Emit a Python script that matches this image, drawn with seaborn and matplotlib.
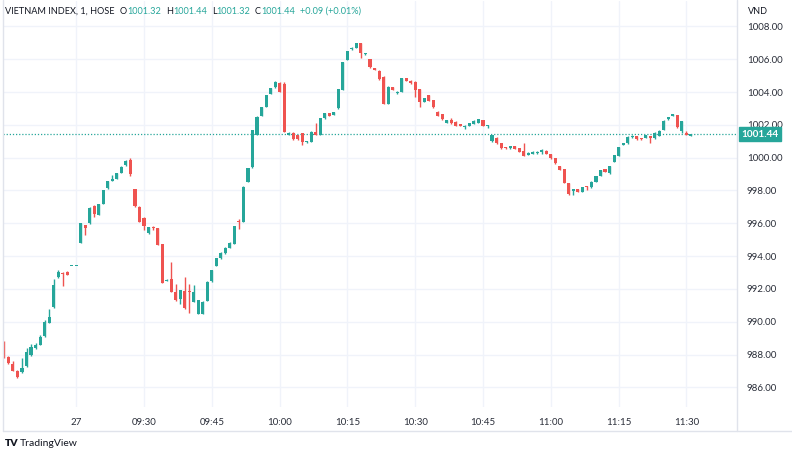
import numpy as np
import pandas as pd
import matplotlib.pyplot as plt
import seaborn as sns
from matplotlib.lines import Line2D
from matplotlib.transforms import blended_transform_factory

# minutes relative to 09:15 on the 27th (negative = previous session close)
minutes = list(range(-16, 137))
opens = [988.78, 987.87, 987.42, 987.02, 986.95, 987.30, 987.97, 988.38, 988.58, 989.10,
         989.94, 990.90, 992.75, 992.95, 993.05, 993.38, 993.38,
         994.82, 995.90, 996.00, 997.08, 996.51, 997.20, 998.13, 998.58, 998.70, 999.09,
         999.56, 999.86, 998.07, 997.02, 996.34, 995.39, 995.77, 995.69, 994.74, 992.50,
         992.58, 991.83, 991.36, 991.90, 991.85, 991.22, 990.47, 990.47, 991.28, 992.48,
         993.40, 993.86, 994.17, 994.52, 994.74, 996.10, 996.10, 998.54, 999.42, 1001.39,
         1002.57, 1003.11, 1003.89, 1004.29, 1004.58, 1004.50, 1001.38, 1001.52, 1001.38, 1001.48,
         1000.94, 1000.98, 1001.59, 1001.38, 1002.40, 1002.70, 1002.60, 1003.01, 1004.13, 1005.96,
         1006.60, 1006.71, 1006.97, 1006.30, 1006.02, 1005.45, 1005.30, 1004.94, 1003.27, 1004.29,
         1003.93, 1004.03, 1004.84, 1004.70, 1004.64, 1004.17, 1003.42, 1003.83, 1003.52, 1002.81,
         1002.67, 1002.14, 1002.30, 1002.20, 1002.05, 1001.88, 1001.95, 1002.05, 1002.14, 1002.30,
         1001.90, 1001.00, 1001.22, 1000.88, 1000.60, 1000.57, 1000.72, 1000.57, 1000.43, 1000.17,
         1000.23, 1000.27, 1000.37, 1000.43, 1000.23, 999.96, 999.49, 999.29, 998.44, 997.99,
         998.07, 997.93, 998.28, 998.20, 998.54, 998.89, 999.29, 999.05, 999.76, 1000.10,
         1000.78, 1000.88, 1001.24, 1001.32, 1001.14, 1001.22, 1001.32, 1001.18, 1001.32, 1001.69,
         1002.34, 1002.54, 1002.60, 1001.65, 1001.50, 1001.32]
highs = [988.85, 987.90, 987.62, 987.05, 987.77, 988.40, 988.64, 988.70, 989.20, 990.10,
         990.75, 992.60, 993.15, 993.05, 993.10, 993.38, 993.38,
         996.00, 995.92, 996.97, 997.10, 997.20, 998.05, 998.60, 998.95, 999.07, 999.48,
         999.88, 999.96, 998.10, 997.05, 996.36, 995.80, 995.84, 995.72, 994.76, 992.58,
         993.66, 992.30, 991.95, 992.71, 992.30, 992.24, 991.35, 991.25, 992.46, 993.17,
         993.88, 994.23, 994.54, 994.84, 995.86, 996.24, 998.26, 999.37, 1001.71, 1002.52,
         1003.09, 1003.85, 1004.25, 1004.66, 1004.60, 1004.63, 1001.59, 1001.54, 1001.40, 1001.50,
         1001.04, 1001.61, 1002.10, 1002.42, 1002.72, 1002.72, 1002.78, 1004.21, 1005.83, 1006.52,
         1006.73, 1006.99, 1006.99, 1006.36, 1006.04, 1005.47, 1005.32, 1004.96, 1004.35, 1004.31,
         1004.05, 1004.86, 1004.86, 1004.72, 1004.66, 1004.19, 1003.64, 1003.85, 1003.54, 1002.83,
         1002.69, 1002.32, 1002.40, 1002.22, 1002.07, 1001.99, 1002.12, 1002.28, 1002.38, 1002.32,
         1001.98, 1001.41, 1001.24, 1000.90, 1000.62, 1000.74, 1000.74, 1000.59, 1000.92, 1000.32,
         1000.39, 1000.39, 1000.53, 1000.45, 1000.25, 999.98, 999.51, 999.31, 998.46, 998.07,
         998.09, 998.21, 998.30, 998.56, 998.91, 999.27, 999.31, 999.52, 1000.19, 1000.65,
         1000.90, 1001.30, 1001.36, 1001.34, 1001.20, 1001.41, 1001.34, 1001.55, 1001.67, 1002.28,
         1002.48, 1002.69, 1002.62, 1002.26, 1001.60, 1001.44]
lows = [987.80, 987.40, 986.98, 986.55, 986.90, 987.25, 987.90, 988.35, 988.55, 989.05,
        989.90, 990.85, 992.65, 992.20, 992.85, 993.38, 993.38,
        994.82, 995.30, 995.96, 996.40, 996.48, 997.18, 998.10, 998.55, 998.68, 999.05,
        999.52, 998.90, 997.02, 996.05, 995.60, 995.35, 995.60, 994.65, 992.35, 992.48,
        991.80, 991.28, 991.10, 990.78, 990.50, 991.18, 990.45, 990.45, 991.25, 992.45,
        993.38, 993.84, 994.15, 994.50, 994.72, 995.63, 996.08, 998.50, 999.40, 1001.37,
        1002.55, 1003.09, 1003.87, 1004.27, 1004.01, 1001.55, 1001.36, 1001.10, 1001.10, 1000.77,
        1000.92, 1000.96, 1001.36, 1001.36, 1002.38, 1002.52, 1002.58, 1002.99, 1004.11, 1005.94,
        1006.58, 1006.69, 1006.06, 1006.28, 1005.49, 1005.33, 1004.76, 1003.25, 1003.25, 1004.11,
        1003.91, 1004.01, 1004.68, 1004.51, 1003.72, 1003.10, 1003.40, 1003.46, 1003.05, 1002.52,
        1002.32, 1002.12, 1002.08, 1001.91, 1001.91, 1001.76, 1001.93, 1002.03, 1002.12, 1001.91,
        1001.80, 1000.98, 1000.86, 1000.55, 1000.55, 1000.55, 1000.51, 1000.35, 1000.11, 1000.15,
        1000.21, 1000.25, 1000.23, 1000.21, 999.94, 999.64, 999.23, 998.46, 997.75, 997.72,
        997.91, 997.91, 998.03, 998.18, 998.52, 998.87, 999.13, 999.03, 999.74, 1000.08,
        1000.76, 1000.86, 1001.22, 1001.10, 1001.05, 1001.20, 1000.92, 1001.16, 1001.30, 1001.67,
        1002.32, 1002.52, 1001.83, 1001.50, 1001.38, 1001.32]
closes = [987.97, 987.46, 987.02, 986.65, 987.16, 988.17, 988.48, 988.58, 989.05, 990.00,
          990.30, 992.24, 993.05, 992.90, 992.85, 993.38, 993.38,
          996.00, 995.70, 996.95, 996.57, 997.16, 998.03, 998.58, 998.70, 999.05, 999.45,
          999.82, 998.99, 997.06, 996.10, 995.86, 995.77, 995.72, 994.68, 992.38, 992.56,
          991.83, 991.32, 991.93, 990.82, 991.80, 991.83, 991.32, 991.22, 992.44, 993.15,
          993.86, 994.21, 994.52, 994.82, 995.84, 996.05, 998.24, 999.35, 1001.69, 1002.50,
          1003.07, 1003.83, 1004.23, 1004.64, 1004.03, 1001.59, 1001.52, 1001.14, 1001.14, 1000.94,
          1001.02, 1001.59, 1001.38, 1002.40, 1002.70, 1002.54, 1002.76, 1004.19, 1005.81, 1006.50,
          1006.71, 1006.97, 1006.36, 1006.34, 1005.51, 1005.35, 1004.78, 1003.27, 1004.33, 1004.13,
          1004.03, 1004.84, 1004.70, 1004.53, 1004.13, 1003.42, 1003.62, 1003.48, 1003.07, 1002.54,
          1002.34, 1002.30, 1002.10, 1001.93, 1001.93, 1001.90, 1002.10, 1002.26, 1002.36, 1001.93,
          1001.93, 1001.39, 1000.88, 1000.57, 1000.57, 1000.72, 1000.53, 1000.37, 1000.13, 1000.30,
          1000.37, 1000.37, 1000.43, 1000.23, 999.96, 999.66, 999.25, 998.48, 997.77, 998.00,
          997.93, 998.19, 998.20, 998.54, 998.89, 999.25, 999.15, 999.50, 1000.17, 1000.63,
          1000.88, 1001.28, 1001.34, 1001.12, 1001.12, 1001.39, 1001.18, 1001.53, 1001.65, 1002.26,
          1002.46, 1002.67, 1001.85, 1002.24, 1001.40, 1001.44]

tick_pos = [0, 15, 30, 45, 60, 75, 90, 105, 120, 135]
tick_labels = ["27", "09:30", "09:45", "10:00", "10:15", "10:30", "10:45", "11:00", "11:15", "11:30"]
price_ticks = [986, 988, 990, 992, 994, 996, 998, 1000, 1002, 1004, 1006, 1008]
last_price = 1001.44

UP = "#26a69a"
DOWN = "#ef5350"
GRID = "#f0f3fa"
TXT = "#131722"
LINE = "#e0e3eb"

df = pd.DataFrame({"minute": minutes, "open": opens, "high": highs, "low": lows, "close": closes})
df["up"] = df["close"] >= df["open"]
df["color"] = np.where(df["up"], UP, DOWN)
df["bottom"] = df[["open", "close"]].min(axis=1)
df["body"] = (df["close"] - df["open"]).abs().clip(lower=0.07)

sns.set_style("white")
plt.rcParams["font.family"] = ["Lato", "DejaVu Sans"]

W, H = 792, 453
fig = plt.figure(figsize=(W / 100, H / 100), dpi=100)
ax = fig.add_axes([3 / W, 1 - 407 / H, (737 - 3) / W, 406 / H])

ax.vlines(df["minute"], df["low"], df["high"], colors=df["color"], linewidth=1, zorder=2)
ax.bar(df["minute"], df["body"], bottom=df["bottom"], width=0.68, color=df["color"],
       linewidth=0, zorder=3)

ax.axhline(last_price, color=UP, linestyle=(0, (1, 1.5)), linewidth=0.9, zorder=1)

ax.set_xlim(-16.2, 146.2)
ax.set_ylim(984.80, 1009.55)
ax.set_xticks(tick_pos)
ax.set_xticklabels(tick_labels)
ax.set_yticks(price_ticks)
ax.set_yticklabels([f"{p:.2f}" for p in price_ticks])
ax.yaxis.tick_right()
ax.tick_params(axis="both", length=0, labelsize=7, labelcolor="#2a2e39")
ax.tick_params(axis="y", pad=7)
ax.tick_params(axis="x", pad=8)
ax.grid(True, color=GRID, linewidth=1)
ax.set_axisbelow(True)
for s in ax.spines.values():
    s.set_visible(False)

# last price tag on the scale
trans = blended_transform_factory(ax.transAxes, ax.transData)
ax.text(1.031, last_price, f"{last_price:.2f}", transform=trans, ha="center", va="center",
        fontsize=7.2, color="white", fontweight="bold", zorder=10, clip_on=False,
        bbox=dict(boxstyle="square,pad=0.25", facecolor=UP, edgecolor=UP))

fig.text(748 / W, 1 - 11 / H, "VND", fontsize=6.5, color=TXT, va="center")

# widget frame lines
fig.add_artist(Line2D([737 / W, 737 / W], [1, 1 - 431 / H], color=LINE, lw=1))
fig.add_artist(Line2D([3 / W, 1], [1 - 431 / H, 1 - 431 / H], color=LINE, lw=1))
fig.add_artist(Line2D([2.5 / W, 2.5 / W], [1, 1 - 431 / H], color=LINE, lw=1))

# header legend
HS = 6.6
parts = [("O", TXT, 4), ("1001.32", UP, 0), ("H", TXT, 3.5), ("1001.44", UP, 0),
         ("L", TXT, 3.5), ("1001.32", UP, 0), ("C", TXT, 3.5), ("1001.44", UP, 0),
         ("+0.09 (+0.01%)", UP, 3.5)]
prev = fig.text(5 / W, 1 - 11 / H, "VIETNAM INDEX, 1, HOSE", fontsize=HS, color=TXT, va="center")
for txt, col, gap in parts:
    prev = ax.annotate(txt, xy=(1, 0.5), xycoords=prev, xytext=(gap, 0),
                       textcoords="offset points", va="center", ha="left",
                       fontsize=HS, color=col, annotation_clip=False)

# footer logo
fig.text(5 / W, 1 - 443 / H, "TV", fontsize=7.5, fontweight="heavy", color=TXT, va="center")
fig.text(20 / W, 1 - 443 / H, "TradingView", fontsize=7.5, color=TXT, va="center")

fig.savefig("out.png", dpi=100)
plt.close(fig)
